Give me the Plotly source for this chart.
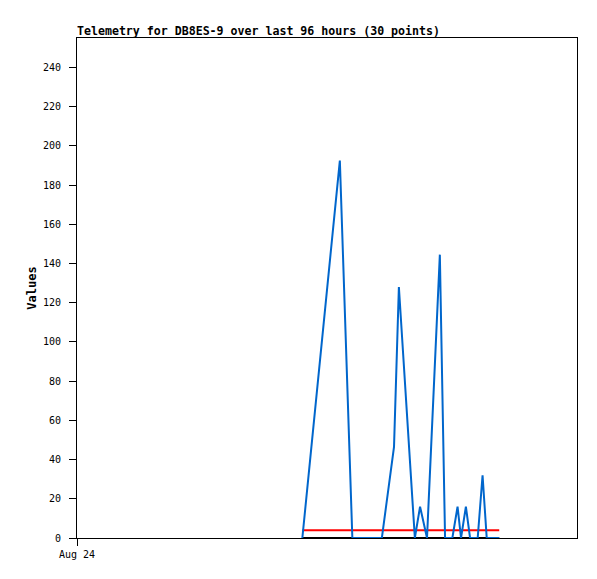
import plotly.graph_objects as go

# ---- data ----
times = [
    "2024-08-24 10:49", "2024-08-24 12:37", "2024-08-24 13:13", "2024-08-24 14:38",
    "2024-08-24 15:13", "2024-08-24 15:27", "2024-08-24 16:13", "2024-08-24 16:28",
    "2024-08-24 16:48", "2024-08-24 17:25", "2024-08-24 17:40", "2024-08-24 18:01",
    "2024-08-24 18:16", "2024-08-24 18:26", "2024-08-24 18:40", "2024-08-24 18:52",
    "2024-08-24 19:14", "2024-08-24 19:28", "2024-08-24 19:40", "2024-08-24 20:16",
]
values_blue = [0, 192.5, 0, 0, 46.5, 128, 0, 16, 0, 144.5, 0, 0, 16, 0, 16, 0, 0, 32, 0, 0]
start_end = ["2024-08-24 10:49", "2024-08-24 20:16"]
values_red = [4, 4]
values_black = [0, 0]

x_range = ["2024-08-24 00:00", "2024-08-25 00:00"]
y_range = [0, 255]
y_ticks = list(range(0, 241, 20))
x_tickvals = ["2024-08-24 00:00"]
x_ticktext = ["Aug 24"]

title_text = "Telemetry for DB8ES-9 over last 96 hours (30 points)"
y_title = "Values"

mono = "DejaVu Sans Mono"

fig = go.Figure()
fig.add_trace(go.Scatter(x=start_end, y=values_red, mode="lines",
                         line=dict(color="#ff0000", width=2), showlegend=False))
fig.add_trace(go.Scatter(x=start_end, y=values_black, mode="lines",
                         line=dict(color="#000000", width=2), showlegend=False))
fig.add_trace(go.Scatter(x=times, y=values_blue, mode="lines",
                         line=dict(color="#0066cc", width=2), showlegend=False))

# the page adds an 8px body margin, so the figure is offset by (8, 8)
fig.update_layout(
    width=597, height=579,
    margin=dict(l=69, r=28, t=30, b=49),
    paper_bgcolor="white", plot_bgcolor="white",
    title=dict(text="<b>" + title_text + "</b>", x=0, xref="paper", xanchor="left",
               y=1 - 23 / 579, yref="container", yanchor="middle",
               font=dict(family=mono, size=11.6, color="black")),
    font=dict(family=mono, size=10, color="black"),
)
fig.update_xaxes(type="date", range=x_range, tickmode="array",
                 tickvals=x_tickvals, ticktext=x_ticktext,
                 showgrid=False, zeroline=False, showline=True, linecolor="black",
                 linewidth=1, mirror=True, ticks="outside", ticklen=7, tickcolor="black",
                 tickfont=dict(family=mono, size=10, color="black"))
fig.update_yaxes(range=y_range, tickmode="array", tickvals=y_ticks,
                 showgrid=False, zeroline=False, showline=True, linecolor="black",
                 linewidth=1, mirror=True, ticks="outside", ticklen=7, tickcolor="black",
                 ticklabelstandoff=6,
                 tickfont=dict(family=mono, size=10, color="black"),
                 title=dict(text="<b>" + y_title + "</b>", standoff=3,
                            font=dict(family=mono, size=12, color="black")))

fig.write_html("out.html")
